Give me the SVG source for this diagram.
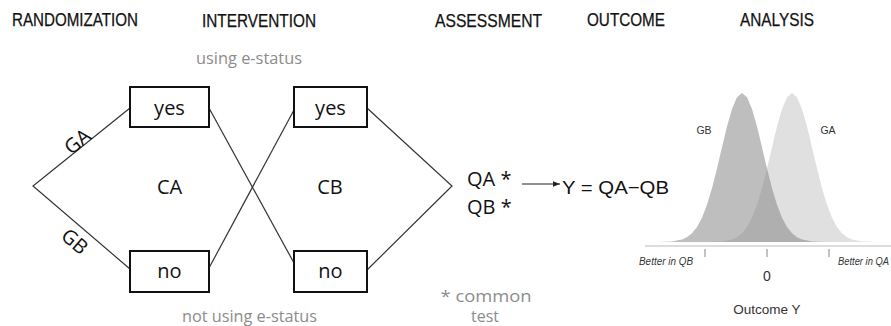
<svg xmlns="http://www.w3.org/2000/svg" width="891" height="326" viewBox="0 0 891 326">
<defs>
<style>
.hdr{font-family:"Liberation Sans",Arial,sans-serif;font-size:18px;fill:#111;stroke:#111;stroke-width:0.25}
.cal{font-family:"Open Sans","Noto Sans",sans-serif;font-size:20px;fill:#111}
.gray{font-family:"Open Sans","Noto Sans",sans-serif;font-size:16px;fill:#8c8c8c}
.box{fill:#fff;stroke:#111;stroke-width:2}
.ln{stroke:#333;stroke-width:1.2;fill:none}
.ax{font-family:"Liberation Sans",Arial,sans-serif;fill:#333}
</style>
<marker id="ah" viewBox="0 0 10 10" refX="10" refY="5" markerWidth="7" markerHeight="7" markerUnits="userSpaceOnUse" orient="auto">
<path d="M0,1 L10,5 L0,9 Z" fill="#222"/>
</marker>
</defs>
<rect width="891" height="326" fill="#fff"/>
<g id="headers">
<text class="hdr" x="12" y="26" textLength="126" lengthAdjust="spacingAndGlyphs">RANDOMIZATION</text>
<text class="hdr" x="202" y="27" textLength="114" lengthAdjust="spacingAndGlyphs">INTERVENTION</text>
<text class="hdr" x="435" y="27" textLength="107" lengthAdjust="spacingAndGlyphs">ASSESSMENT</text>
<text class="hdr" x="587" y="26" textLength="78" lengthAdjust="spacingAndGlyphs">OUTCOME</text>
<text class="hdr" x="740" y="26" textLength="74" lengthAdjust="spacingAndGlyphs">ANALYSIS</text>
</g>
<g id="connectors">
<polyline class="ln" points="130,108 33,186 130,269"/>
<line class="ln" x1="209" y1="108" x2="294" y2="263"/>
<line class="ln" x1="209" y1="268" x2="294" y2="110"/>
<polyline class="ln" points="367,108 452,186 367,270"/>
<line x1="522" y1="184" x2="560" y2="184" stroke="#222" stroke-width="1.2" marker-end="url(#ah)"/>
</g>
<g id="edge-labels">
<text class="cal" font-size="18" text-anchor="middle" dominant-baseline="central" transform="translate(77,141) rotate(-39)">GA</text>
<text class="cal" font-size="18" text-anchor="middle" dominant-baseline="central" transform="translate(75,241) rotate(40.5)">GB</text>
</g>
<text class="gray" x="249" y="64" text-anchor="middle" textLength="106" lengthAdjust="spacingAndGlyphs">using e-status</text>
<text class="gray" x="249.5" y="322" text-anchor="middle" textLength="135" lengthAdjust="spacingAndGlyphs">not using e-status</text>
<g id="yesA"><rect class="box" x="130" y="87" width="79" height="40"/><text class="cal" x="169.5" y="115" text-anchor="middle">yes</text></g>
<g id="yesB"><rect class="box" x="294" y="87" width="73" height="40"/><text class="cal" x="330.5" y="115" text-anchor="middle">yes</text></g>
<g id="noA"><rect class="box" x="130" y="251" width="79" height="41"/><text class="cal" x="169.5" y="278" text-anchor="middle">no</text></g>
<g id="noB"><rect class="box" x="294" y="251" width="73" height="41"/><text class="cal" x="330.5" y="278" text-anchor="middle">no</text></g>
<text class="cal" x="169.5" y="194" text-anchor="middle">CA</text>
<text class="cal" x="330" y="194" text-anchor="middle">CB</text>
<g id="assessment">
<text class="cal" font-size="19" x="467" y="186">QA *</text>
<text class="cal" font-size="19" x="467" y="214">QB *</text>
</g>
<text class="gray" font-size="17" x="486" y="302" text-anchor="middle" textLength="91" lengthAdjust="spacingAndGlyphs">* common</text>
<text class="gray" font-size="17" x="485" y="322" text-anchor="middle">test</text>
<g id="outcome">
<text font-family="Liberation Sans, Arial, sans-serif" font-size="19" fill="#111" x="562" y="194" textLength="107" lengthAdjust="spacingAndGlyphs">Y = QA−QB</text>
</g>
<g id="analysis">
<polygon fill="#e0e0e0" points="707,242 722,241.4 732,239.5 737,237.2 742,233.3 747,227 752,217.7 757,204.8 762,188.3 767,168.6 772,147.3 777,126.6 782,109 787,97.2 792,93 797,97.2 802,109 807,126.6 812,147.3 817,168.6 822,188.3 827,204.8 832,217.7 837,227 842,233.3 847,237.2 852,239.5 862,241.4 877,242"/>
<polygon fill="#7d7d7d" fill-opacity="0.5" points="657,242 672,241.4 682,239.5 687,237.2 692,233.3 697,227 702,217.7 707,204.8 712,188.3 717,168.6 722,147.3 727,126.6 732,109 737,97.2 742,93 747,97.2 752,109 757,126.6 762,147.3 767,168.6 772,188.3 777,204.8 782,217.7 787,227 792,233.3 797,237.2 802,239.5 812,241.4 827,242"/>
<line x1="645" y1="246" x2="891" y2="246" stroke="#bbb" stroke-width="1.2"/>
<g stroke="#999" stroke-width="1.2">
<line x1="705" y1="249" x2="705" y2="257"/>
<line x1="767" y1="249" x2="767" y2="257"/>
<line x1="829" y1="249" x2="829" y2="257"/>
</g>
<text class="ax" font-size="10.5" fill="#777" x="704" y="134" text-anchor="middle">GB</text>
<text class="ax" font-size="10.5" fill="#777" x="828" y="134" text-anchor="middle">GA</text>
<text class="ax" font-size="10" font-style="italic" x="639" y="265" textLength="54" lengthAdjust="spacingAndGlyphs">Better in QB</text>
<text class="ax" font-size="10" font-style="italic" x="838" y="265" textLength="51" lengthAdjust="spacingAndGlyphs">Better in QA</text>
<text class="ax" font-size="14" x="767" y="281" text-anchor="middle">0</text>
<text class="ax" font-size="13.5" x="767" y="314" text-anchor="middle">Outcome Y</text>
</g>
</svg>
